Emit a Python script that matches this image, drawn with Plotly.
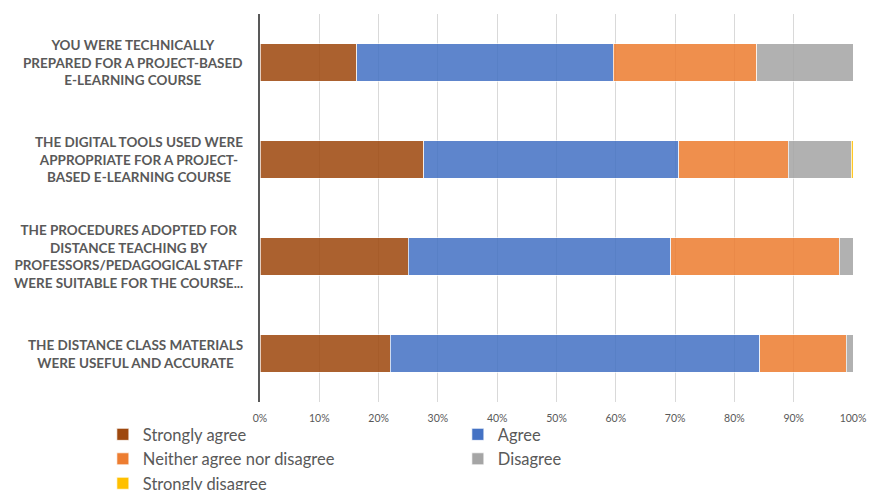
import plotly.graph_objects as go

# Survey statements (top to bottom)
statements = [
    "YOU WERE TECHNICALLY<br>PREPARED FOR A PROJECT-BASED<br>E-LEARNING COURSE",
    "THE DIGITAL TOOLS USED WERE<br>APPROPRIATE FOR A PROJECT-<br>BASED E-LEARNING COURSE",
    "THE PROCEDURES ADOPTED FOR<br>DISTANCE TEACHING BY<br>PROFESSORS/PEDAGOGICAL STAFF<br>WERE SUITABLE FOR THE COURSE...",
    "THE DISTANCE CLASS MATERIALS<br>WERE USEFUL AND ACCURATE",
]
category_ids = ["Q1", "Q2", "Q3", "Q4"]

# Share of answers per statement (%)
strongly_agree = [16.3, 27.6, 25.0, 22.0]
agree = [43.3, 43.0, 44.3, 62.3]
neither = [24.2, 18.5, 28.4, 14.6]
disagree = [16.2, 10.6, 2.3, 1.1]
strongly_disagree = [0.0, 0.3, 0.0, 0.0]

tick_values = [0, 10, 20, 30, 40, 50, 60, 70, 80, 90, 100]
tick_labels = ["0%", "10%", "20%", "30%", "40%", "50%", "60%", "70%", "80%", "90%", "100%"]

series = [
    ("Strongly agree", strongly_agree, "#9E480E"),
    ("Agree", agree, "#4472C4"),
    ("Neither agree nor disagree", neither, "#ED7D31"),
    ("Disagree", disagree, "#A5A5A5"),
    ("Strongly disagree", strongly_disagree, "#FFC000"),
]

fig = go.Figure()
for name, values, color in series:
    fig.add_trace(go.Bar(
        name=name,
        y=category_ids,
        x=values,
        orientation="h",
        marker=dict(color=color, opacity=0.86,
                    line=dict(color="rgba(255,255,255,0.7)", width=1)),
    ))

for cid, text in zip(category_ids, statements):
    fig.add_annotation(
        x=-0.025, xref="paper", y=cid, yref="y",
        text=text, showarrow=False,
        xanchor="right", yanchor="middle", align="center",
        font=dict(family="Lato", size=13.5, color="#595959", weight="bold"),
    )

fig.update_layout(
    barmode="stack",
    bargap=0.61,
    width=869, height=490,
    margin=dict(l=260, r=16, t=14, b=88, autoexpand=False),
    plot_bgcolor="white",
    paper_bgcolor="white",
    font=dict(family="Lato", color="#595959"),
    xaxis=dict(
        range=[0, 100], tickmode="array", tickvals=tick_values, ticktext=tick_labels,
        showgrid=True, gridcolor="#D9D9D9", gridwidth=1,
        zeroline=False, showline=False,
        tickfont=dict(size=10.5, color="#595959"),
        ticklabelstandoff=8,
    ),
    yaxis=dict(
        categoryorder="array", categoryarray=category_ids,
        autorange="reversed",
        showticklabels=False, showgrid=False, zeroline=False,
        showline=True, linecolor="#595959", linewidth=2,
    ),
    legend=dict(
        orientation="h", x=-0.265, xanchor="left", y=-0.039, yanchor="top",
        entrywidth=310, entrywidthmode="pixels",
        bgcolor="rgba(0,0,0,0)",
        font=dict(family="Lato", size=16.5, color="#595959"),
        traceorder="normal", itemclick=False, tracegroupgap=0,
    ),
    showlegend=True,
)

fig.write_html("out.html")
